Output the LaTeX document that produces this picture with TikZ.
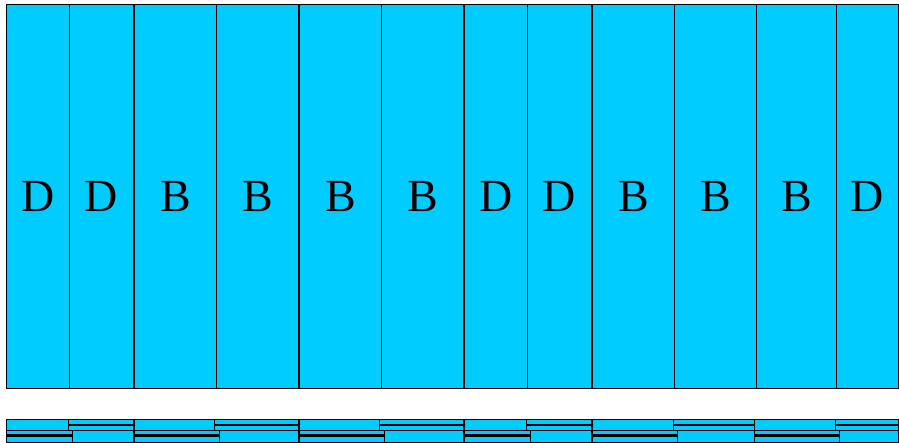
\documentclass[tikz,border=0pt]{standalone}
\usepackage{fontspec}
\setmainfont{Liberation Serif}
\definecolor{cellcyan}{HTML}{00CCFF}
\begin{document}
\begin{tikzpicture}[x=1pt,y=-1pt,
  cell/.style={draw=black, line width=0.7pt, fill=cellcyan, inner sep=0pt, anchor=north west,
    font=\fontsize{46}{46}\selectfont},
  strip/.style={draw=black, line width=0.7pt, fill=cellcyan},
  bar/.style={draw=black, line width=2.2pt}]
\useasboundingbox (0,0) rectangle (899,442);
% top cells
\foreach \xa/\xb/\lab/\nm in {6/69/D/c1,69/133/D/c2,134/216/B/c3,216/298/B/c4,299/381/B/c5,381/463/B/c6,464/527/D/c7,527/591/D/c8,592/674/B/c9,674/756/B/c10,756/836/B/c11,836/898/D/c12}{
  \pgfmathsetmacro{\w}{\xb-\xa}
  \node[cell, minimum width=\w pt, minimum height=384pt, text height=31pt, text depth=0pt] (\nm) at (\xa,4) {\lab};
}
% bottom strips
\foreach \a/\ma/\mb/\b in {6/68/72/133,134/214/219/298,299/379/384/463,464/526/530/591,592/673/677/754,754/835/839/898}{
  \draw[strip] (\a,419) rectangle (\ma,430);
  \draw[strip] (\ma,419) rectangle (\b,430);
  \draw[bar] (\ma,425) -- (\b,425);
  \draw[strip] (\a,430.5) rectangle (\mb,442.5);
  \draw[bar] (\a,435.5) -- (\mb,435.5);
  \draw[strip] (\mb,430.5) rectangle (\b,442.5);
}
\end{tikzpicture}
\end{document}
